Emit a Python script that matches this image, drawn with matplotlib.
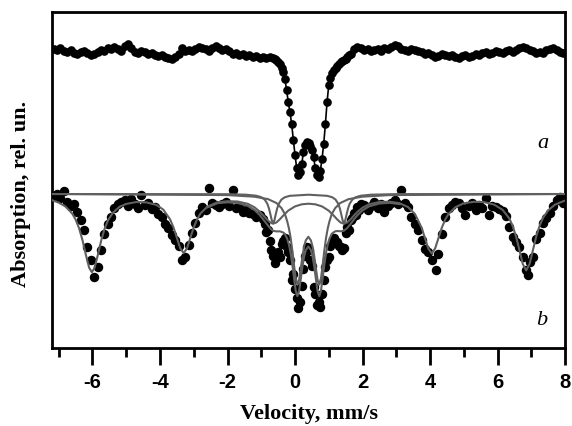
import numpy as np
import matplotlib
matplotlib.use('Agg')
import matplotlib.pyplot as plt
from matplotlib.ticker import MultipleLocator

plt.rcParams['axes.unicode_minus'] = False

# spectrum a: velocity (mm/s) and absorption (rel. un.)
a_vel = [-7.15, -7.05, -6.95, -6.85, -6.75, -6.65, -6.55, -6.45, -6.35, -6.25,
         -6.15, -6.05, -5.95, -5.85, -5.75, -5.65, -5.55, -5.45, -5.35, -5.25,
         -5.15, -5.05, -4.95, -4.85, -4.75, -4.65, -4.55, -4.45, -4.35, -4.25,
         -4.15, -4.05, -3.95, -3.85, -3.75, -3.65, -3.55, -3.45, -3.35, -3.25,
         -3.15, -3.05, -2.95, -2.85, -2.75, -2.65, -2.55, -2.45, -2.35, -2.25,
         -2.15, -2.05, -1.95, -1.85, -1.75, -1.65, -1.55, -1.45, -1.35, -1.25,
         -1.15, -1.05, -0.95, -0.85, -0.75, -0.65,
         -0.60, -0.55, -0.50, -0.45, -0.40, -0.35, -0.30, -0.25, -0.20, -0.15,
         -0.10, -0.05, 0.00, 0.05, 0.10, 0.15, 0.20, 0.25, 0.30, 0.35,
         0.40, 0.45, 0.50, 0.55, 0.60, 0.65, 0.70, 0.75, 0.80, 0.85,
         0.90, 0.95, 1.00, 1.05, 1.10, 1.15, 1.20, 1.25, 1.30, 1.35,
         1.40, 1.45, 1.50, 1.55, 1.60,
         1.65, 1.75, 1.85, 1.95, 2.05, 2.15, 2.25, 2.35, 2.45, 2.55,
         2.65, 2.75, 2.85, 2.95, 3.05, 3.15, 3.25, 3.35, 3.45, 3.55,
         3.65, 3.75, 3.85, 3.95, 4.05, 4.15, 4.25, 4.35, 4.45, 4.55,
         4.65, 4.75, 4.85, 4.95, 5.05, 5.15, 5.25, 5.35, 5.45, 5.55,
         5.65, 5.75, 5.85, 5.95, 6.05, 6.15, 6.25, 6.35, 6.45, 6.55,
         6.65, 6.75, 6.85, 6.95, 7.05, 7.15, 7.25, 7.35, 7.45, 7.55,
         7.65, 7.75, 7.85, 7.95]
a_abs = [-0.03, -0.02, -0.04, -0.01, 0.00, -0.02, 0.01, 0.02, 0.00, -0.01,
         0.01, 0.03, 0.02, 0.00, -0.02, -0.01, -0.04, -0.03, -0.05, -0.03,
         -0.01, -0.06, -0.08, -0.04, 0.00, 0.01, -0.01, 0.00, 0.02, 0.01,
         0.03, 0.04, 0.03, 0.05, 0.06, 0.07, 0.05, 0.02, -0.04, -0.01,
         -0.02, -0.01, -0.03, -0.05, -0.04, -0.03, -0.01, -0.04, -0.06, -0.04,
         -0.02, -0.03, -0.01, 0.02, 0.01, 0.03, 0.02, 0.04, 0.03, 0.05,
         0.04, 0.06, 0.05, 0.06, 0.05, 0.06,
         0.07, 0.08, 0.10, 0.12, 0.16, 0.20, 0.27, 0.38, 0.50, 0.60,
         0.72, 0.88, 1.03, 1.16, 1.23, 1.20, 1.12, 1.00, 0.93, 0.90,
         0.91, 0.94, 0.98, 1.05, 1.16, 1.23, 1.25, 1.19, 1.07, 0.92,
         0.72, 0.50, 0.33, 0.26, 0.21, 0.18, 0.16, 0.14, 0.12, 0.10,
         0.09, 0.08, 0.07, 0.05, 0.03,
         0.02, -0.03, -0.05, -0.04, -0.02, -0.03, -0.01, -0.02, -0.03, -0.01,
         -0.04, -0.03, -0.05, -0.07, -0.06, -0.03, -0.02, -0.01, -0.03, -0.02,
         -0.01, 0.00, 0.02, 0.01, 0.03, 0.05, 0.04, 0.02, 0.03, 0.04,
         0.03, 0.05, 0.06, 0.04, 0.03, 0.05, 0.04, 0.02, 0.03, 0.01,
         0.00, 0.02, 0.01, -0.01, 0.00, 0.01, -0.01, -0.02, 0.00, -0.02,
         -0.04, -0.05, -0.04, -0.02, -0.01, 0.01, 0.00, 0.01, -0.02, -0.03,
         -0.04, -0.02, 0.00, 0.01]

# spectrum b: measured points
b_vel = [-7.15, -7.05, -6.95, -6.85, -6.75, -6.65, -6.55, -6.45, -6.35, -6.25,
         -6.15, -6.05, -5.95, -5.85, -5.75, -5.65, -5.55, -5.45, -5.35, -5.25,
         -5.15, -5.05, -4.95, -4.85, -4.75, -4.65, -4.55, -4.45, -4.35, -4.25,
         -4.15, -4.05, -3.95, -3.85, -3.75, -3.65, -3.55, -3.45, -3.35, -3.25,
         -3.15, -3.05, -2.95, -2.85, -2.75, -2.65, -2.55, -2.45, -2.35, -2.25,
         -2.15, -2.05, -1.95, -1.85, -1.75, -1.65, -1.55, -1.45, -1.35, -1.25,
         -1.15, -1.05, -0.95, -0.90, -0.85, -0.80, -0.75, -0.70, -0.65, -0.60,
         -0.55, -0.50, -0.45, -0.40, -0.35, -0.30, -0.25, -0.20, -0.15, -0.10,
         -0.05, 0.00, 0.05, 0.10, 0.15, 0.20, 0.25, 0.30, 0.35, 0.40,
         0.45, 0.50, 0.55, 0.60, 0.65, 0.70, 0.75, 0.80, 0.85, 0.90,
         0.95, 1.00, 1.05, 1.10, 1.15, 1.20, 1.25, 1.30, 1.35, 1.40,
         1.45, 1.50, 1.55, 1.60, 1.65, 1.70, 1.75, 1.80, 1.85, 1.90,
         1.95, 2.05, 2.15, 2.25, 2.35, 2.45, 2.55, 2.65, 2.75, 2.85,
         2.95, 3.05, 3.15, 3.25, 3.35, 3.45, 3.55, 3.65, 3.75, 3.85,
         3.95, 4.05, 4.18, 4.25, 4.35, 4.45, 4.55, 4.65, 4.75, 4.85,
         4.95, 5.05, 5.15, 5.25, 5.35, 5.45, 5.55, 5.65, 5.75, 5.85,
         5.95, 6.05, 6.15, 6.25, 6.35, 6.45, 6.55, 6.65, 6.75, 6.85,
         6.90, 6.95, 7.05, 7.15, 7.25, 7.35, 7.45, 7.55, 7.65, 7.75,
         7.85, 7.95]
b_abs = [0.02, 0.00, 0.04, -0.03, 0.08, 0.12, 0.10, 0.18, 0.26, 0.36,
         0.53, 0.66, 0.83, 0.73, 0.56, 0.40, 0.30, 0.23, 0.14, 0.10,
         0.08, 0.06, 0.12, 0.05, 0.10, 0.14, 0.01, 0.11, 0.09, 0.15,
         0.13, 0.20, 0.23, 0.30, 0.34, 0.41, 0.46, 0.52, 0.66, 0.63,
         0.51, 0.39, 0.29, 0.19, 0.13, 0.16, -0.06, 0.09, 0.11, 0.13,
         0.10, 0.08, 0.12, -0.04, 0.14, 0.13, 0.18, 0.16, 0.19, 0.20,
         0.23, 0.21, 0.25, 0.30, 0.38, 0.36, 0.47, 0.56, 0.62, 0.69,
         0.64, 0.58, 0.63, 0.50, 0.47, 0.44, 0.53, 0.58, 0.66, 0.86,
         0.80, 0.95, 1.04, 1.14, 1.08, 0.92, 0.75, 0.62, 0.53, 0.56,
         0.66, 0.72, 0.93, 1.00, 1.11, 1.08, 1.13, 1.00, 0.86, 0.73,
         0.66, 0.63, 0.52, 0.49, 0.44, 0.49, 0.48, 0.52, 0.53, 0.56,
         0.54, 0.39, 0.33, 0.36, 0.26, 0.24, 0.19, 0.21, 0.13, 0.16,
         0.10, 0.11, 0.16, 0.12, 0.08, 0.14, 0.10, 0.18, 0.12, 0.09,
         0.06, 0.10, -0.04, 0.09, 0.13, 0.23, 0.30, 0.36, 0.46, 0.55,
         0.58, 0.66, 0.76, 0.60, 0.40, 0.23, 0.14, 0.11, 0.08, 0.09,
         0.14, 0.21, 0.12, 0.09, 0.16, 0.11, 0.14, 0.04, 0.21, 0.12,
         0.13, 0.15, 0.17, 0.22, 0.33, 0.43, 0.48, 0.53, 0.63, 0.76,
         0.81, 0.68, 0.63, 0.45, 0.39, 0.29, 0.24, 0.19, 0.12, 0.06,
         0.03, 0.09]

# fitted sextet subspectrum
sext_vel = [-7.2, -7.0, -6.8, -6.6, -6.5, -6.4, -6.3, -6.2, -6.1, -6.02,
            -5.94, -5.84, -5.74, -5.64, -5.54, -5.4, -5.2, -5.0, -4.7, -4.4,
            -4.1, -3.9, -3.7, -3.6, -3.5, -3.4, -3.3, -3.2, -3.1, -3.0,
            -2.9, -2.8, -2.6, -2.3, -2.0, -1.7, -1.4, -1.2, -1.05, -0.95,
            -0.85, -0.75, -0.65, -0.55, -0.45, -0.35, -0.2, 0.0, 0.2, 0.4,
            0.6, 0.8, 1.0, 1.15, 1.25, 1.35, 1.45, 1.55, 1.65, 1.75,
            1.85, 2.0, 2.2, 2.5, 2.8, 3.1, 3.35, 3.55, 3.75, 3.85,
            3.95, 4.05, 4.15, 4.25, 4.35, 4.45, 4.55, 4.75, 5.0, 5.3,
            5.6, 5.9, 6.15, 6.35, 6.45, 6.55, 6.65, 6.75, 6.85, 6.95,
            7.05, 7.15, 7.25, 7.35, 7.5, 7.7, 8.0]
sext_abs = [0.062, 0.086, 0.125, 0.196, 0.256, 0.340, 0.457, 0.603, 0.737, 0.782,
            0.740, 0.607, 0.462, 0.346, 0.263, 0.189, 0.128, 0.099, 0.080, 0.084,
            0.110, 0.157, 0.254, 0.335, 0.439, 0.544, 0.591, 0.543, 0.437, 0.333,
            0.252, 0.194, 0.127, 0.083, 0.072, 0.075, 0.098, 0.133, 0.175, 0.211,
            0.248, 0.281, 0.297, 0.284, 0.253, 0.216, 0.166, 0.124, 0.103, 0.097,
            0.103, 0.124, 0.167, 0.217, 0.254, 0.285, 0.298, 0.284, 0.252, 0.214,
            0.179, 0.137, 0.102, 0.080, 0.077, 0.092, 0.131, 0.198, 0.336, 0.441,
            0.546, 0.594, 0.546, 0.441, 0.337, 0.256, 0.199, 0.132, 0.093, 0.078,
            0.081, 0.106, 0.158, 0.245, 0.321, 0.427, 0.563, 0.702, 0.764, 0.700,
            0.560, 0.422, 0.315, 0.237, 0.164, 0.107, 0.065]

# fitted main doublet
dbl_vel = [-7.2, -2.0, -1.2, -0.8, -0.55, -0.4, -0.3, -0.23, -0.18, -0.13,
           -0.08, -0.03, 0.02, 0.07, 0.12, 0.17, 0.22, 0.27, 0.32, 0.395,
           0.47, 0.52, 0.57, 0.62, 0.67, 0.72, 0.77, 0.82, 0.87, 0.92,
           0.97, 1.02, 1.09, 1.19, 1.34, 1.59, 1.99, 2.79, 8.0]
dbl_abs = [0.0, 0.011, 0.027, 0.051, 0.090, 0.141, 0.200, 0.274, 0.344, 0.438,
           0.563, 0.709, 0.844, 0.906, 0.863, 0.748, 0.624, 0.525, 0.463, 0.428,
           0.463, 0.525, 0.624, 0.748, 0.863, 0.906, 0.844, 0.709, 0.563, 0.438,
           0.344, 0.274, 0.200, 0.141, 0.090, 0.051, 0.027, 0.011, 0.0]

# fitted weak doublet
dbl2_vel = [-7.2, -2.0, -1.45, -1.15, -1.0, -0.9, -0.82, -0.77, -0.73, -0.69,
            -0.65, -0.61, -0.57, -0.53, -0.48, -0.4, -0.3, -0.15, 0.4, 0.95,
            1.1, 1.2, 1.28, 1.33, 1.37, 1.41, 1.45, 1.49, 1.53, 1.57,
            1.62, 1.7, 1.8, 1.95, 2.25, 3.0, 8.0]
dbl2_abs = [0.0, 0.002, 0.007, 0.017, 0.032, 0.055, 0.097, 0.146, 0.202, 0.262,
            0.291, 0.262, 0.202, 0.146, 0.097, 0.055, 0.032, 0.018, 0.007, 0.018,
            0.032, 0.055, 0.097, 0.146, 0.202, 0.262, 0.291, 0.262, 0.202, 0.146,
            0.097, 0.055, 0.032, 0.017, 0.007, 0.001, 0.0]

# total fit in the central part
tot_vel = [-2.6, -2.3, -2.0, -1.7, -1.4, -1.2, -1.05, -0.95, -0.85, -0.75,
           -0.65, -0.55, -0.45, -0.35, -0.3, -0.23, -0.18, -0.13, -0.08, -0.03,
           0.02, 0.07, 0.12, 0.17, 0.22, 0.27, 0.32, 0.395, 0.47, 0.52,
           0.57, 0.62, 0.67, 0.72, 0.77, 0.82, 0.87, 0.92, 0.97, 1.02,
           1.09, 1.19, 1.27, 1.35, 1.45, 1.55, 1.65, 1.75, 1.85, 2.0,
           2.2, 2.5, 2.8, 3.1]
tot_abs = [0.134, 0.092, 0.083, 0.090, 0.119, 0.160, 0.208, 0.250, 0.294, 0.337,
           0.368, 0.374, 0.373, 0.385, 0.399, 0.449, 0.506, 0.588, 0.703, 0.838,
           0.966, 1.022, 0.973, 0.853, 0.726, 0.625, 0.561, 0.525, 0.561, 0.624,
           0.726, 0.853, 0.973, 1.022, 0.966, 0.838, 0.703, 0.588, 0.504, 0.447,
           0.397, 0.373, 0.370, 0.373, 0.367, 0.339, 0.297, 0.252, 0.212, 0.164,
           0.123, 0.095, 0.088, 0.101]

b_offset = 1.42
fit_color = '#606060'

fig = plt.figure(figsize=(5.72, 4.26), dpi=100)
ax = fig.add_axes([0.0909, 0.1831, 0.8969, 0.7887])

ax.plot(a_vel, a_abs, '-o', color='black', lw=1.2, ms=5.2, zorder=3)

b_y = [v + b_offset for v in b_abs]
ax.plot(b_vel, b_y, 'o', color='black', ms=5.8, zorder=2)

for vel, vals in [(dbl_vel, dbl_abs), (dbl2_vel, dbl2_abs),
                  (sext_vel, sext_abs), (tot_vel, tot_abs)]:
    ax.plot(vel, [v + b_offset for v in vals], '-', color=fit_color, lw=1.5, zorder=4)

ax.set_xlim(-7.2, 8.0)
ax.set_ylim(2.96, -0.40)
ax.set_yticks([])
ax.xaxis.set_major_locator(MultipleLocator(2))
ax.xaxis.set_minor_locator(MultipleLocator(1))
ax.tick_params(axis='x', which='major', direction='out', length=12, width=2,
               labelsize=14.5, pad=6)
ax.tick_params(axis='x', which='minor', direction='out', length=6.5, width=2)
for lab in ax.get_xticklabels():
    lab.set_fontfamily('Liberation Sans')
    lab.set_fontweight('bold')
for s in ax.spines.values():
    s.set_linewidth(2)

ax.set_xlabel('Velocity, mm/s', fontsize=16, fontweight='bold',
              fontfamily='Liberation Serif', labelpad=9)
ax.set_ylabel('Absorption, rel. un.', fontsize=16, fontweight='bold',
              fontfamily='Liberation Serif')
ax.yaxis.set_label_coords(-0.040, 0.46)

ax.text(0.957, 0.61, 'a', transform=ax.transAxes, fontsize=16, style='italic',
        fontfamily='Liberation Serif', ha='center', va='center')
ax.text(0.955, 0.083, 'b', transform=ax.transAxes, fontsize=16, style='italic',
        fontfamily='Liberation Serif', ha='center', va='center')

fig.savefig('out.png', dpi=100)
